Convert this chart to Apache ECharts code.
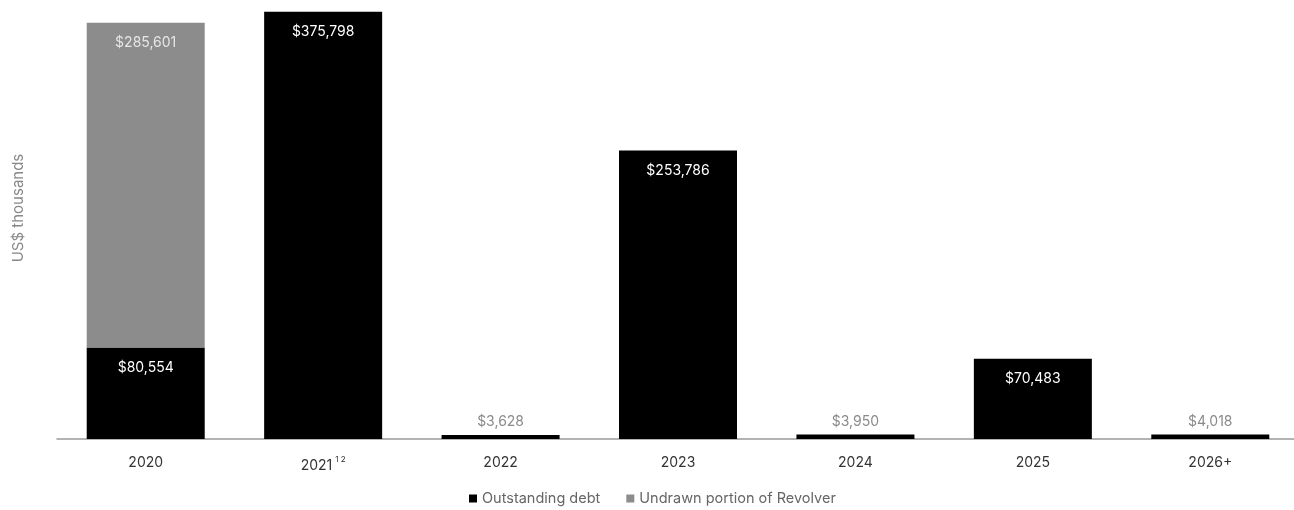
<!DOCTYPE html>
<html>
<head>
<meta charset="utf-8">
<script src="https://cdn.jsdelivr.net/npm/echarts@6/dist/echarts.min.js"></script>
<style>
html,body{margin:0;padding:0;background:#fff;}
#chart{width:1294px;height:510px;}
</style>
</head>
<body>
<div id="chart"></div>
<script>
const categories = ['2020', '2021', '2022', '2023', '2024', '2025', '2026+'];
const categoryLabels = ['2020', '2021{sup|1 2}', '2022', '2023', '2024', '2025', '2026+'];
const outstandingDebt = [80554, 375798, 3628, 253786, 3950, 70483, 4018];
const undrawnRevolver = [285601, null, null, null, null, null, null];
const seriesNames = ['Outstanding debt', 'Undrawn portion of Revolver'];
const yAxisName = 'US$ thousands';

const FONT = 'Inter, "Noto Sans", sans-serif';
const fmt = v => '$' + v.toLocaleString('en-US');

const debtData = outstandingDebt.map(v => {
  const small = v < 20000;
  return {
    value: v,
    label: small
      ? { position: 'top', distance: 6, color: '#8a8a8a' }
      : { position: 'insideTop', distance: 13, color: '#ffffff' }
  };
});

const chart = echarts.init(document.getElementById('chart'), null, { renderer: 'canvas' });
chart.setOption({
  animation: false,
  textStyle: { fontFamily: FONT },
  grid: { left: 57, right: -5, top: 7, bottom: 71, containLabel: false, outerBoundsMode: 'none' },
  legend: {
    data: seriesNames,
    top: 486,
    left: 464,
    icon: 'rect',
    itemWidth: 8,
    itemHeight: 8,
    itemGap: 26,
    textStyle: { color: '#666', fontSize: 14.5, fontFamily: FONT }
  },
  xAxis: {
    type: 'category',
    data: categories,
    axisLine: { lineStyle: { color: '#9a9a9a', width: 1.5 } },
    axisTick: { show: false },
    axisLabel: {
      color: '#333',
      fontSize: 14,
      margin: 17,
      fontFamily: FONT,
      formatter: (v, i) => categoryLabels[i],
      rich: { sup: { fontSize: 8, color: '#333', padding: [0, 0, 12, 3] } }
    }
  },
  yAxis: {
    type: 'value',
    min: 0,
    max: 380000,
    name: yAxisName,
    nameLocation: 'middle',
    nameGap: 31,
    nameRotate: 90,
    nameTextStyle: { color: '#888', fontSize: 15, fontFamily: FONT, padding: [0, 0, 0, 30] },
    axisLine: { show: false },
    axisTick: { show: false },
    axisLabel: { show: false },
    splitLine: { show: false }
  },
  series: [
    {
      name: seriesNames[0],
      type: 'bar',
      stack: 'total',
      barWidth: 118,
      itemStyle: { color: '#000000' },
      label: { show: true, fontSize: 14, fontFamily: FONT, formatter: p => fmt(p.value) },
      data: debtData
    },
    {
      name: seriesNames[1],
      type: 'bar',
      stack: 'total',
      barWidth: 118,
      itemStyle: { color: '#8c8c8c' },
      label: {
        show: true, position: 'insideTop', distance: 13, color: '#e6e6e6',
        fontSize: 14, fontFamily: FONT,
        formatter: p => p.value == null ? '' : fmt(p.value)
      },
      data: undrawnRevolver
    }
  ]
});
</script>
</body>
</html>
